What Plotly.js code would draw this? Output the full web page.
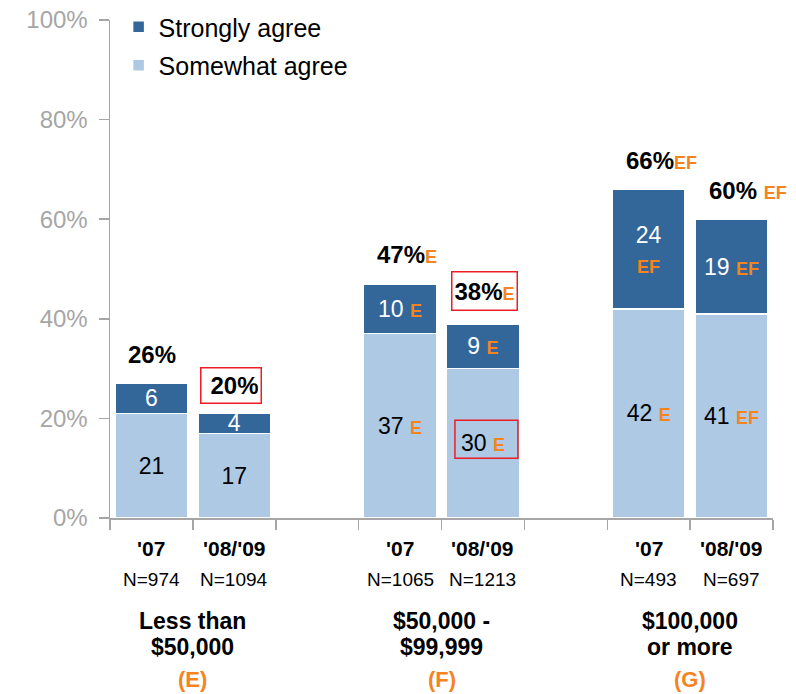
<!DOCTYPE html>
<html><head><meta charset="utf-8">
<script src="https://cdn.plot.ly/plotly-3.0.1.min.js"></script>
<style>html,body{margin:0;padding:0;background:#fff}#chart{width:796px;height:694px}</style>
</head><body><div id="chart"></div>
<script>
// ---- data ----
const years = ["'07", "'08/'09", "'07", "'08/'09", "'07", "'08/'09"];
const sampleSizes = ["N=974", "N=1094", "N=1065", "N=1213", "N=493", "N=697"];
const groupNames = [["Less than", "$50,000"], ["$50,000 -", "$99,999"], ["$100,000", "or more"]];
const groupCodes = ["(E)", "(F)", "(G)"];
const somewhatAgree = [21, 17, 37, 30, 42, 41];
const stronglyAgree = [6, 4, 10, 9, 24, 19];
const totals = [26, 20, 47, 38, 66, 60];
const somewhatSig = ["", "", "E", "E", "E", "EF"];
const stronglySig = ["", "", "E", "E", "EF", "EF"];
const totalSig = ["", "", "E", "E", "EF", "EF"];
const highlightTotal = [false, true, false, true, false, false];
const highlightSomewhat = [false, false, false, true, false, false];
const yTicks = [0, 20, 40, 60, 80, 100];

// ---- style ----
const FONT = 'Liberation Sans, Arial, sans-serif';
const DARK = '#336699', LIGHT = '#adc9e4', ORANGE = '#f5841f', RED = '#ee1c25', GRAY = '#a6a6a6';

const xPos = years.map((_, i) => Math.floor(i / 2) * 3 + (i % 2));
const sigSpan = (s, size) => s ? `<b><span style="color:${ORANGE};font-size:${size}px">${s}</span></b>` : '';

const somewhatText = somewhatAgree.map((v, i) => somewhatSig[i] ? `${v} ${sigSpan(somewhatSig[i], 18)}` : `${v}`);
const stronglyText = stronglyAgree.map((v, i) => {
  if (!stronglySig[i]) return `${v}`;
  const sep = stronglySig[i].length > 1 && somewhatSig[i].length === 1 ? '<br>' : ' ';
  return `${v}${sep}${sigSpan(stronglySig[i], 18)}`;
});

const barCommon = {
  type: 'bar', x: xPos, width: 0.88, textposition: 'inside', insidetextanchor: 'middle',
  textangle: 0, constraintext: 'none', hoverinfo: 'skip', cliponaxis: false
};
const traces = [
  Object.assign({}, barCommon, {
    name: 'Somewhat agree', y: somewhatAgree, text: somewhatText, legendrank: 2, legendgroup: 'b',
    marker: {color: LIGHT, line: {color: '#ffffff', width: 1.5}},
    textfont: {family: FONT, size: 23, color: '#000'}
  }),
  Object.assign({}, barCommon, {
    name: 'Strongly agree', y: stronglyAgree, text: stronglyText, legendrank: 1, legendgroup: 'a',
    marker: {color: DARK, line: {color: '#ffffff', width: 1.5}},
    textfont: {family: FONT, size: 23, color: '#fff'}
  })
];

const annotations = [];
const shapes = [];
xPos.forEach((x, i) => {
  const top = somewhatAgree[i] + stronglyAgree[i];
  const gap = totalSig[i] && x === 7 ? ' ' : '';
  const label = `<b>${totals[i]}%</b>` + gap + sigSpan(totalSig[i], 18);
  if (highlightTotal[i]) {
    annotations.push({
      x: x, y: top, xref: 'x', yref: 'y', showarrow: false, text: label,
      xanchor: 'center', yanchor: 'middle', yshift: totalSig[i] ? 33 : 28, xshift: totalSig[i] ? 2 : -3,
      width: totalSig[i] ? 60 : 55, height: totalSig[i] ? 33 : 30, align: 'right',
      bordercolor: RED, borderwidth: 1.5, borderpad: 2,
      font: {family: FONT, size: 24, color: '#000'}
    });
  } else {
    annotations.push({
      x: x, y: top, xref: 'x', yref: 'y', showarrow: false, text: label,
      xanchor: 'left', yanchor: 'middle', yshift: 29, xshift: -25,
      font: {family: FONT, size: 24, color: '#000'}
    });
  }
  if (highlightSomewhat[i]) {
    shapes.push({
      type: 'rect', xref: 'x', yref: 'y', xsizemode: 'pixel', ysizemode: 'pixel',
      xanchor: x, yanchor: somewhatAgree[i] / 2, x0: -28, x1: 35, y0: -15, y1: 23,
      line: {color: RED, width: 1.5}
    });
  }
  annotations.push({
    x: x, y: 0, xref: 'x', yref: 'paper', showarrow: false, text: `<b>${years[i]}</b>`,
    yanchor: 'middle', yshift: -30, font: {family: FONT, size: 21, color: '#000'}
  });
  annotations.push({
    x: x, y: 0, xref: 'x', yref: 'paper', showarrow: false, text: sampleSizes[i],
    yanchor: 'middle', yshift: -61, font: {family: FONT, size: 19, color: '#000'}
  });
});
groupNames.forEach((lines, g) => {
  const gx = g * 3 + 0.5;
  lines.forEach((ln, k) => {
    annotations.push({
      x: gx, y: 0, xref: 'x', yref: 'paper', showarrow: false, text: `<b>${ln}</b>`,
      yanchor: 'middle', yshift: -103 - k * 26, font: {family: FONT, size: 23, color: '#000'}
    });
  });
  annotations.push({
    x: gx, y: 0, xref: 'x', yref: 'paper', showarrow: false, text: `<b>${groupCodes[g]}</b>`,
    yanchor: 'middle', yshift: -161, font: {family: FONT, size: 22, color: ORANGE}
  });
});

const layout = {
  width: 796, height: 694,
  margin: {l: 110, r: 23, t: 20, b: 176, autoexpand: false},
  paper_bgcolor: '#fff', plot_bgcolor: '#fff',
  font: {family: FONT},
  barmode: 'stack',
  showlegend: true,
  legend: {
    x: 0.013, xanchor: 'left', y: 1.032, yanchor: 'top',
    traceorder: 'grouped', tracegroupgap: 3,
    font: {family: FONT, size: 25, color: '#000'}, bgcolor: 'rgba(0,0,0,0)'
  },
  xaxis: {
    range: [-0.5, 7.5], tickmode: 'array',
    tickvals: [-0.5, 0.5, 1.5, 2.5, 3.5, 4.5, 5.5, 6.5, 7.5],
    showticklabels: false, ticks: 'outside', ticklen: 10, tickcolor: GRAY, tickwidth: 1.5,
    showline: true, linecolor: GRAY, linewidth: 1.5, showgrid: false, zeroline: false, fixedrange: true
  },
  yaxis: {
    range: [0, 100], tickmode: 'array', tickvals: yTicks, ticktext: yTicks.map(v => v + '%'),
    ticks: 'outside', ticklen: 10, tickcolor: GRAY, tickwidth: 1.5, ticklabelstandoff: 6,
    tickfont: {family: FONT, size: 24, color: GRAY},
    showline: true, linecolor: GRAY, linewidth: 1.5, showgrid: false, zeroline: false, fixedrange: true
  },
  annotations: annotations,
  shapes: shapes
};

Plotly.newPlot('chart', traces, layout, {displayModeBar: false, staticPlot: true});
</script>
</body></html>
